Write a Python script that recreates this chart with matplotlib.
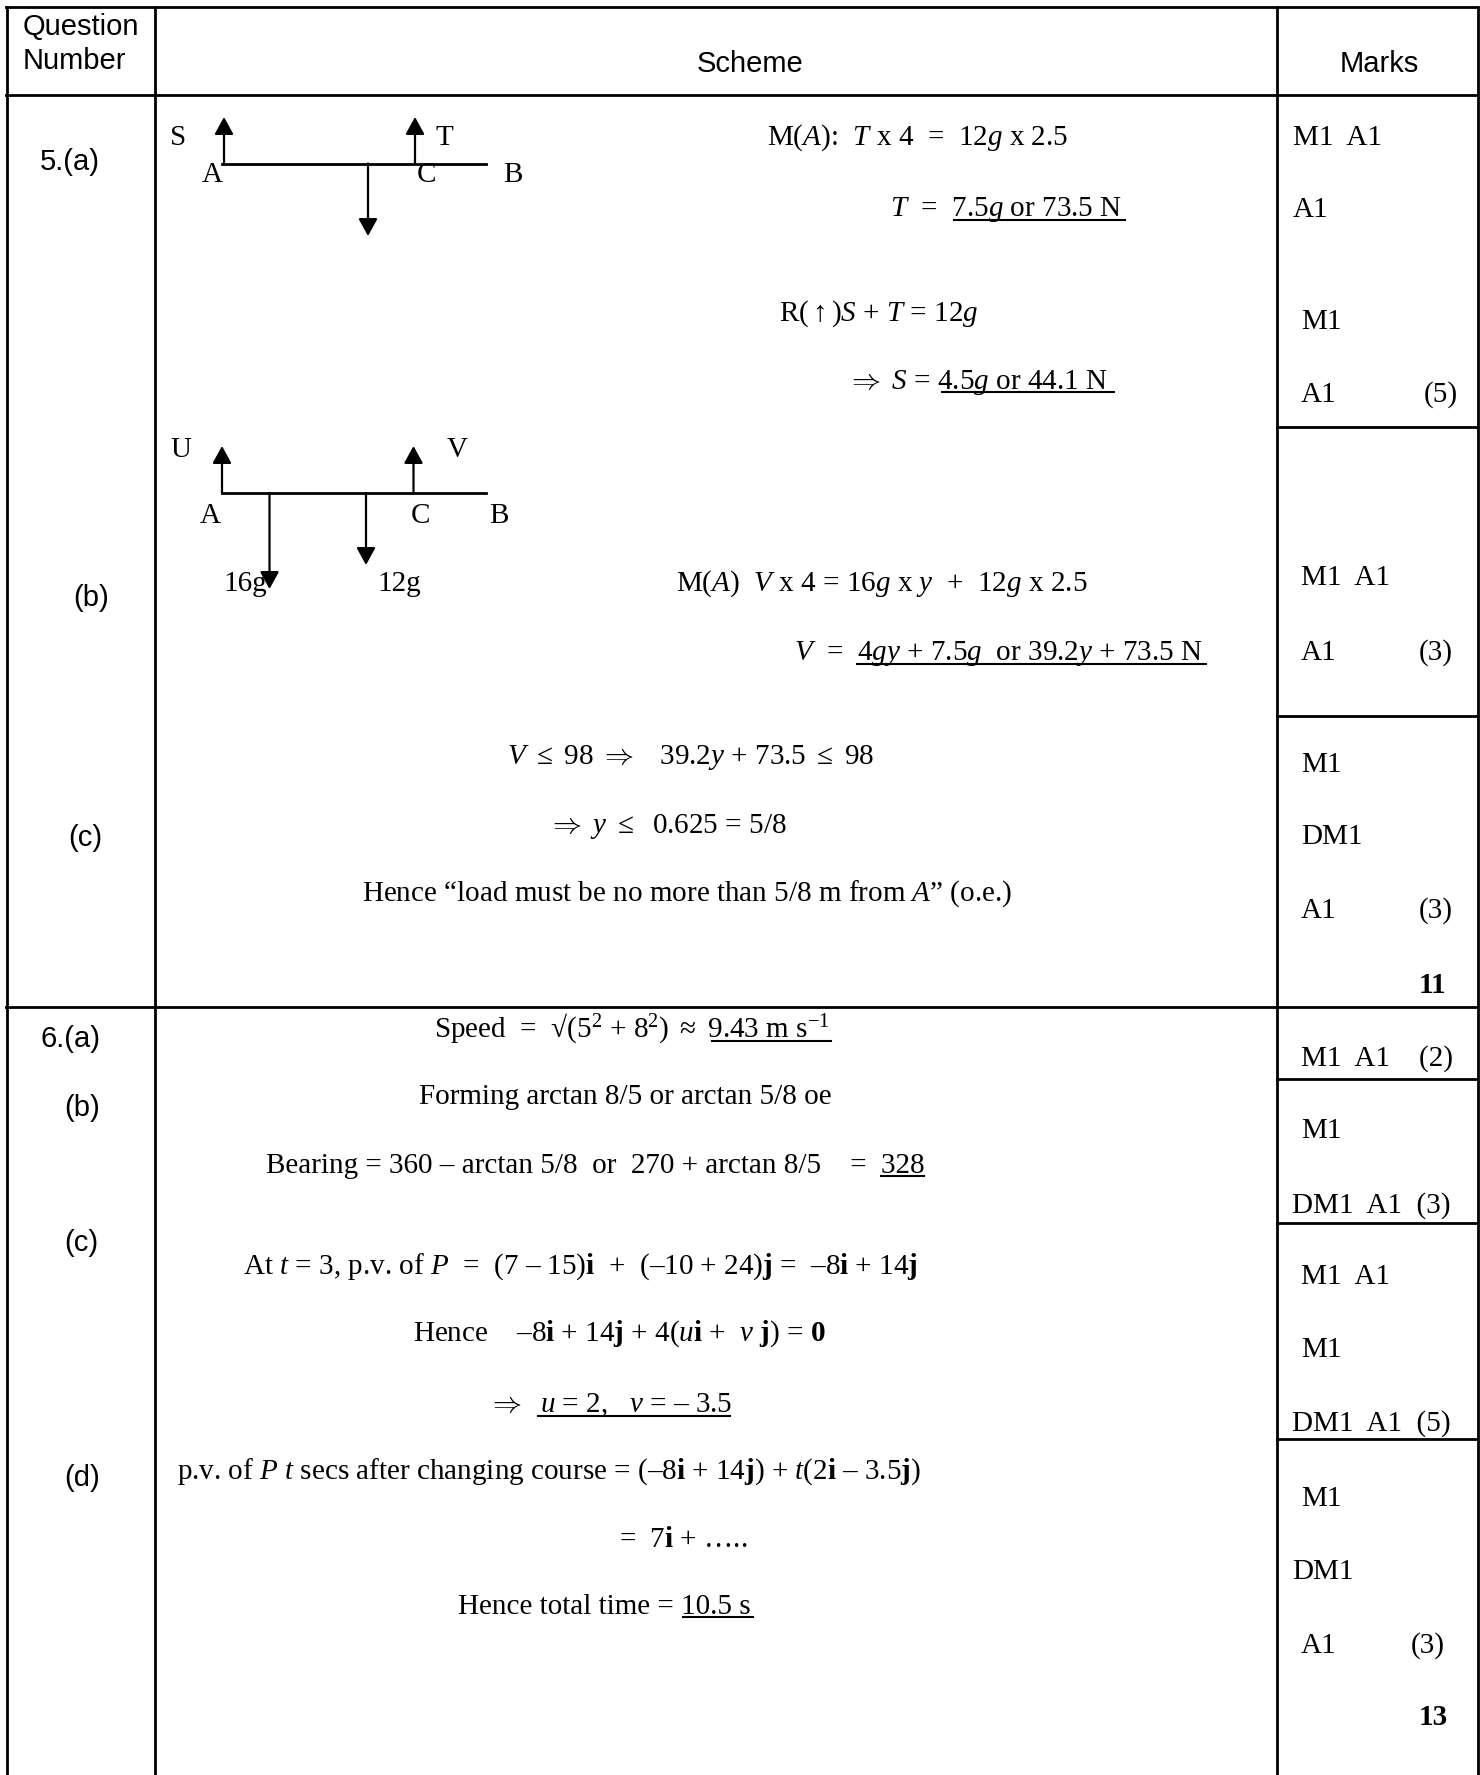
import matplotlib
matplotlib.use('Agg')
import matplotlib.pyplot as plt

plt.rcParams['font.family'] = ['Liberation Serif', 'DejaVu Sans']
plt.rcParams['mathtext.fontset'] = 'custom'
plt.rcParams['mathtext.rm'] = 'Liberation Serif'
plt.rcParams['mathtext.it'] = 'Liberation Serif:italic'
plt.rcParams['mathtext.bf'] = 'Liberation Serif:bold'

# header and question column
header_text = ['Question', 'Number', 'Scheme', 'Marks']
header_x = [23, 23, 697, 1340]
header_y = [35, 69, 72, 72]
part_text = ['5.(a)', '(b)', '(c)', '6.(a)', '(b)', '(c)', '(d)']
part_x = [40, 73, 68, 40, 64, 64, 64]
part_y = [170, 606, 846, 1047, 1116, 1251, 1486]

# working lines in the scheme column
scheme_text = [
    r'M($\mathit{A}$):  $\mathit{T}$ x 4  =  12$\mathit{g}$ x 2.5',
    r'$\mathit{T}$  =  7.5$\mathit{g}$ or 73.5 N',
    r'R($\uparrow$)$\mathit{S}$ + $\mathit{T}$ = 12$\mathit{g}$',
    r'$\Rightarrow$ $\mathit{S}$ = 4.5$\mathit{g}$ or 44.1 N',
    r'M($\mathit{A}$)  $\mathit{V}$ x 4 = 16$\mathit{g}$ x $\mathit{y}$  +  12$\mathit{g}$ x 2.5',
    r'$\mathit{V}$  =  4$\mathit{gy}$ + 7.5$\mathit{g}$  or 39.2$\mathit{y}$ + 73.5 N',
    r'$\mathit{V}$ $\leq$ 98 $\Rightarrow$   39.2$\mathit{y}$ + 73.5 $\leq$ 98',
    r'$\Rightarrow$ $\mathit{y}$ $\leq$  0.625 = 5/8',
    r'Hence “load must be no more than 5/8 m from $\mathit{A}$” (o.e.)',
    r'Speed  =  √(5$^2$ + 8$^2$) $\approx$ 9.43 m s$^{-1}$',
    'Forming arctan 8/5 or arctan 5/8 oe',
    'Bearing = 360 – arctan 5/8  or  270 + arctan 8/5    =  328',
    r'At $\mathit{t}$ = 3, p.v. of $\mathit{P}$  =  (7 – 15)$\mathbf{i}$  +  (–10 + 24)$\mathbf{j}$ =  –8$\mathbf{i}$ + 14$\mathbf{j}$',
    r'Hence    –8$\mathbf{i}$ + 14$\mathbf{j}$ + 4($\mathit{u}$$\mathbf{i}$ +  $\mathit{v}$ $\mathbf{j}$) = $\mathbf{0}$',
    r'$\Rightarrow$  $\mathit{u}$ = 2,   $\mathit{v}$ = – 3.5',
    r'p.v. of $\mathit{P}$ $\mathit{t}$ secs after changing course = (–8$\mathbf{i}$ + 14$\mathbf{j}$) + $\mathit{t}$(2$\mathbf{i}$ – 3.5$\mathbf{j}$)',
    r'=  7$\mathbf{i}$ + …..',
    'Hence total time = 10.5 s',
]
scheme_x = [767, 890, 779, 847, 676, 794, 507, 548, 362, 434, 419, 266, 243, 413, 488, 177, 619, 458]
scheme_y = [145, 216, 321, 389, 591, 660, 764, 833, 901, 1037, 1104, 1173, 1274, 1341, 1412, 1479, 1547, 1614]

# underlines: x from, x to, y
under_x0 = [954, 942, 857, 712, 881, 538, 683]
under_x1 = [1125, 1114, 1206, 831, 924, 730, 753]
under_y = [220, 392, 664, 1041, 1176, 1416, 1617]

# marks column
mark_text = ['M1  A1', 'A1', 'M1', 'A1', '(5)', 'M1  A1', 'A1', '(3)', 'M1', 'DM1', 'A1', '(3)',
             'M1  A1    (2)', 'M1', 'DM1  A1  (3)', 'M1  A1', 'M1', 'DM1  A1  (5)', 'M1', 'DM1', 'A1', '(3)']
mark_x = [1293, 1293, 1301, 1301, 1424, 1301, 1301, 1419, 1301, 1301, 1301, 1419,
          1301, 1301, 1292, 1301, 1301, 1292, 1301, 1292, 1301, 1411]
mark_y = [145, 217, 329, 402, 402, 585, 660, 660, 772, 844, 918, 918,
          1066, 1138, 1213, 1284, 1357, 1431, 1506, 1579, 1653, 1653]
total_text = ['11', '13']
total_x = [1419, 1419]
total_y = [993, 1725]

# table rules
rule_y = [95, 1007]
marks_rule_y = [427, 716, 1079, 1223, 1439]

# force diagrams
beam_x0 = [222, 222]
beam_x1 = [486, 486]
beam_y = [163.5, 493]
up_x = [224, 415, 222, 413.5]
up_base = [163.5, 163.5, 493, 493]
up_tip = [117, 117, 446, 446]
down_x = [368, 269.5, 366]
down_base = [163.5, 493, 493]
down_tip = [236, 589, 565]
diagram_text = ['S', 'T', 'A', 'C', 'B', 'U', 'V', 'A', 'C', 'B', '16g', '12g']
diagram_x = [170, 435, 202, 417, 503, 170, 447, 200, 411, 489, 223, 377]
diagram_y = [145, 145, 182, 182, 182, 457, 457, 523, 523, 523, 591, 591]

fig = plt.figure(figsize=(14.8, 17.75), dpi=100)
ax = fig.add_axes([0, 0, 1, 1])
ax.set_xlim(0, 1480)
ax.set_ylim(1775, 0)
ax.axis('off')

lw = 2.0
ax.plot([6, 1476], [7, 7], color='k', lw=lw)
for y in rule_y:
    ax.plot([6, 1476], [y, y], color='k', lw=lw)
for x in [7, 155, 1277]:
    ax.plot([x, x], [7, 1775], color='k', lw=lw)
ax.plot([1478, 1478], [7, 1775], color='k', lw=lw)
for y in marks_rule_y:
    ax.plot([1277, 1476], [y, y], color='k', lw=lw)

for t, x, y in zip(header_text + part_text, header_x + part_x, header_y + part_y):
    ax.text(x, y, t, family='Liberation Sans', fontsize=21, va='baseline', ha='left')

for t, x, y in zip(scheme_text, scheme_x, scheme_y):
    ax.text(x, y, t, fontsize=21, va='baseline', ha='left')
for x0, x1, y in zip(under_x0, under_x1, under_y):
    ax.plot([x0, x1], [y, y], color='k', lw=1.5)

for t, x, y in zip(mark_text, mark_x, mark_y):
    ax.text(x, y, t, fontsize=21, va='baseline', ha='left')
for t, x, y in zip(total_text, total_x, total_y):
    ax.text(x, y, t, fontsize=21, weight='bold', va='baseline', ha='left')

for x0, x1, y in zip(beam_x0, beam_x1, beam_y):
    ax.plot([x0, x1], [y, y], color='k', lw=lw)
arrow = dict(arrowstyle='-|>,head_length=0.525,head_width=0.288', color='k', lw=1.6,
             mutation_scale=20, shrinkA=0, shrinkB=0)
for x, b, t in zip(up_x + down_x, up_base + down_base, up_tip + down_tip):
    ax.annotate('', xy=(x, t), xytext=(x, b), arrowprops=arrow)
for t, x, y in zip(diagram_text, diagram_x, diagram_y):
    ax.text(x, y, t, fontsize=21, va='baseline', ha='left')

fig.savefig('out.png', dpi=100)
